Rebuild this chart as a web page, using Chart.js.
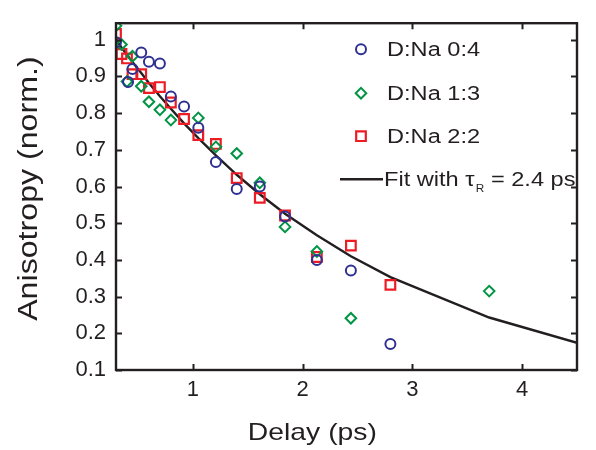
<!DOCTYPE html>
<html>
<head>
<meta charset="utf-8">
<script src="https://cdn.jsdelivr.net/npm/chart.js@4.4.1/dist/chart.umd.min.js"></script>
<style>
  html, body { margin: 0; padding: 0; background: #ffffff; }
  #wrap { position: relative; width: 596px; height: 450px; }
</style>
</head>
<body>
<div id="wrap"><canvas id="anisotropy-chart" width="596" height="450"></canvas></div>
<script>
// Anisotropy decay vs delay, three donor:acceptor ratios plus a single-exponential fit

// --- data ---
var blueX  = [0.30, 0.41, 0.45, 0.53, 0.60, 0.70, 0.80, 0.92, 1.05, 1.21, 1.40, 1.61, 1.84, 2.13, 2.44, 2.80];
var blueY  = [0.993, 0.885, 0.920, 0.965, 0.940, 0.935, 0.845, 0.818, 0.760, 0.667, 0.593, 0.600, 0.518, 0.400, 0.371, 0.171];

var greenX = [0.30, 0.35, 0.40, 0.45, 0.53, 0.60, 0.70, 0.80, 1.05, 1.21, 1.40, 1.61, 1.84, 2.13, 2.44, 3.70];
var greenY = [1.038, 0.987, 0.886, 0.955, 0.873, 0.831, 0.809, 0.781, 0.787, 0.708, 0.690, 0.610, 0.490, 0.423, 0.241, 0.315];

var redX   = [0.30, 0.35, 0.40, 0.45, 0.53, 0.60, 0.70, 0.80, 0.92, 1.05, 1.21, 1.40, 1.61, 1.84, 2.13, 2.44, 2.80];
var redY   = [1.016, 0.961, 0.949, 0.906, 0.906, 0.868, 0.871, 0.829, 0.784, 0.740, 0.716, 0.623, 0.569, 0.521, 0.408, 0.439, 0.332];

var fitX   = [0.30, 0.35, 0.40, 0.45, 0.53, 0.60, 0.70, 0.80, 0.92, 1.05, 1.21, 1.40, 1.61, 1.84, 2.13, 2.44, 2.80, 3.70, 4.50];
var fitY   = [1.000, 0.979, 0.959, 0.939, 0.909, 0.882, 0.846, 0.812, 0.772, 0.732, 0.685, 0.632, 0.579, 0.526, 0.467, 0.410, 0.353, 0.243, 0.174];

var seriesLabels = ['D:Na 0:4', 'D:Na 1:3', 'D:Na 2:2'];
var fitLabel = ['Fit with ', '\u03c4', 'R', ' = 2.4 ps'];
var xTitle = 'Delay (ps)';
var yTitle = 'Anisotropy (norm.)';

var xMin = 0.3, xMax = 4.5, xStep = 1;
var yMin = 0.1, yMax = 1.045, yStep = 0.1;

// --- styling ---
var INK = '#231f20';
var BLUE = '#2e3192';
var GREEN = '#009444';
var RED = '#ed1c24';
var FONT = '"Liberation Sans", Arial, Helvetica, sans-serif';
var STRETCH = 1.18; // the source figure's text is a little wide

function toPoints(xs, ys) {
  var out = [];
  for (var i = 0; i < xs.length; i++) out.push({ x: xs[i], y: ys[i] });
  return out;
}

// Draws the boxed frame with inward ticks, axis titles and the in-plot legend
var decorPlugin = {
  id: 'decor',
  afterDatasetsDraw: function(chart) {
    var ctx = chart.ctx;
    var a = chart.chartArea;
    var xs = chart.scales.x, ys = chart.scales.y;
    var tick = 6;

    ctx.save();
    ctx.strokeStyle = INK;
    ctx.lineWidth = 2;
    ctx.beginPath();
    xs.ticks.forEach(function(t) {
      var px = Math.round(xs.getPixelForValue(t.value)) + 0.5;
      ctx.moveTo(px, a.bottom); ctx.lineTo(px, a.bottom - tick);
      ctx.moveTo(px, a.top); ctx.lineTo(px, a.top + tick);
    });
    ys.ticks.forEach(function(t) {
      var py = Math.round(ys.getPixelForValue(t.value)) + 0.5;
      ctx.moveTo(a.left, py); ctx.lineTo(a.left + tick, py);
      ctx.moveTo(a.right, py); ctx.lineTo(a.right - tick, py);
    });
    ctx.stroke();
    ctx.lineWidth = 2.4;
    ctx.strokeRect(a.left, a.top, a.right - a.left, a.bottom - a.top);

    // axis titles
    ctx.fillStyle = INK;
    ctx.textBaseline = 'middle';
    ctx.textAlign = 'center';
    ctx.font = '24px ' + FONT;
    ctx.save();
    ctx.translate(a.left + (a.right - a.left) * 0.426, a.bottom + 63);
    ctx.scale(STRETCH, 1);
    ctx.fillText(xTitle, 0, 0);
    ctx.restore();

    ctx.save();
    ctx.translate(29, (a.top + a.bottom) / 2 - 8);
    ctx.rotate(-Math.PI / 2);
    ctx.scale(1.34, STRETCH);
    ctx.fillText(yTitle, 0, 0);
    ctx.restore();

    // legend
    var ds = chart.data.datasets;
    var mx = a.left + 245, tx = a.left + 271;
    var rows = [a.top + 26, a.top + 70, a.top + 113, a.top + 156];
    ctx.textAlign = 'left';
    ctx.font = '20px ' + FONT;
    for (var i = 0; i < 3; i++) {
      var d = ds[i];
      drawMarker(ctx, d.pointStyle, mx, rows[i], d.pointRadius, d.borderColor, d.borderWidth);
      ctx.save();
      ctx.translate(tx, rows[i]);
      ctx.scale(STRETCH, 1);
      ctx.fillStyle = INK;
      ctx.fillText(d.label, 0, 1);
      ctx.restore();
    }
    // fit row: line sample + label with subscript
    ctx.strokeStyle = ds[3].borderColor;
    ctx.lineWidth = ds[3].borderWidth;
    ctx.beginPath();
    ctx.moveTo(a.left + 224, rows[3]); ctx.lineTo(a.left + 267, rows[3]);
    ctx.stroke();
    ctx.save();
    ctx.translate(a.left + 268, rows[3]);
    ctx.scale(STRETCH, 1);
    ctx.fillStyle = INK;
    var cx = 0;
    ctx.font = '20px ' + FONT;
    ctx.fillText(fitLabel[0], cx, 1); cx += ctx.measureText(fitLabel[0]).width;
    ctx.fillText(fitLabel[1], cx, 1); cx += ctx.measureText(fitLabel[1]).width + 1;
    ctx.font = '10px ' + FONT;
    ctx.fillText(fitLabel[2], cx, 10); cx += ctx.measureText(fitLabel[2]).width;
    ctx.font = '20px ' + FONT;
    ctx.fillText(fitLabel[3], cx, 1);
    ctx.restore();

    ctx.restore();
  }
};

function drawMarker(ctx, style, x, y, r, color, lw) {
  ctx.save();
  ctx.strokeStyle = color;
  ctx.lineWidth = lw;
  ctx.beginPath();
  if (style === 'circle') {
    ctx.arc(x, y, r, 0, Math.PI * 2);
  } else if (style === 'rectRot') {
    ctx.moveTo(x - r, y); ctx.lineTo(x, y - r); ctx.lineTo(x + r, y); ctx.lineTo(x, y + r);
    ctx.closePath();
  } else {
    var s = r * Math.SQRT1_2;
    ctx.rect(x - s, y - s, 2 * s, 2 * s);
  }
  ctx.stroke();
  ctx.restore();
}

var ctx = document.getElementById('anisotropy-chart').getContext('2d');
new Chart(ctx, {
  type: 'scatter',
  data: {
    datasets: [{
      label: seriesLabels[0],
      data: toPoints(blueX, blueY),
      pointStyle: 'circle',
      pointRadius: 5,
      borderColor: BLUE,
      backgroundColor: 'rgba(0,0,0,0)',
      borderWidth: 2
    }, {
      label: seriesLabels[1],
      data: toPoints(greenX, greenY),
      pointStyle: 'rectRot',
      pointRadius: 5.3,
      borderColor: GREEN,
      backgroundColor: 'rgba(0,0,0,0)',
      borderWidth: 2
    }, {
      label: seriesLabels[2],
      data: toPoints(redX, redY),
      pointStyle: 'rect',
      pointRadius: 6.8,
      borderColor: RED,
      backgroundColor: 'rgba(0,0,0,0)',
      borderWidth: 2.2
    }, {
      label: fitLabel.join(''),
      type: 'line',
      data: toPoints(fitX, fitY),
      showLine: true,
      pointRadius: 0,
      borderColor: INK,
      borderWidth: 2.4,
      tension: 0,
      fill: false
    }]
  },
  options: {
    responsive: false,
    animation: false,
    layout: { padding: { top: 7, right: 19, left: 0, bottom: 0 } },
    plugins: {
      legend: { display: false },
      tooltip: { enabled: false }
    },
    scales: {
      x: {
        type: 'linear',
        min: xMin, max: xMax,
        grid: { display: false, drawTicks: false },
        border: { display: false },
        ticks: {
          stepSize: xStep, includeBounds: false, autoSkip: false,
          padding: 7, color: INK, maxRotation: 0,
          font: { family: FONT, size: 22 }
        },
        afterFit: function(scale) { scale.height = 80; }
      },
      y: {
        type: 'linear',
        min: yMin, max: yMax,
        grid: { display: false, drawTicks: false },
        border: { display: false },
        ticks: {
          stepSize: yStep, includeBounds: false, autoSkip: false,
          padding: 10, color: INK,
          font: { family: FONT, size: 22 },
          callback: function(v) { return String(Math.round(v * 10) / 10); }
        },
        afterFit: function(scale) { scale.width = 116; }
      }
    }
  },
  plugins: [decorPlugin]
});
</script>
</body>
</html>
